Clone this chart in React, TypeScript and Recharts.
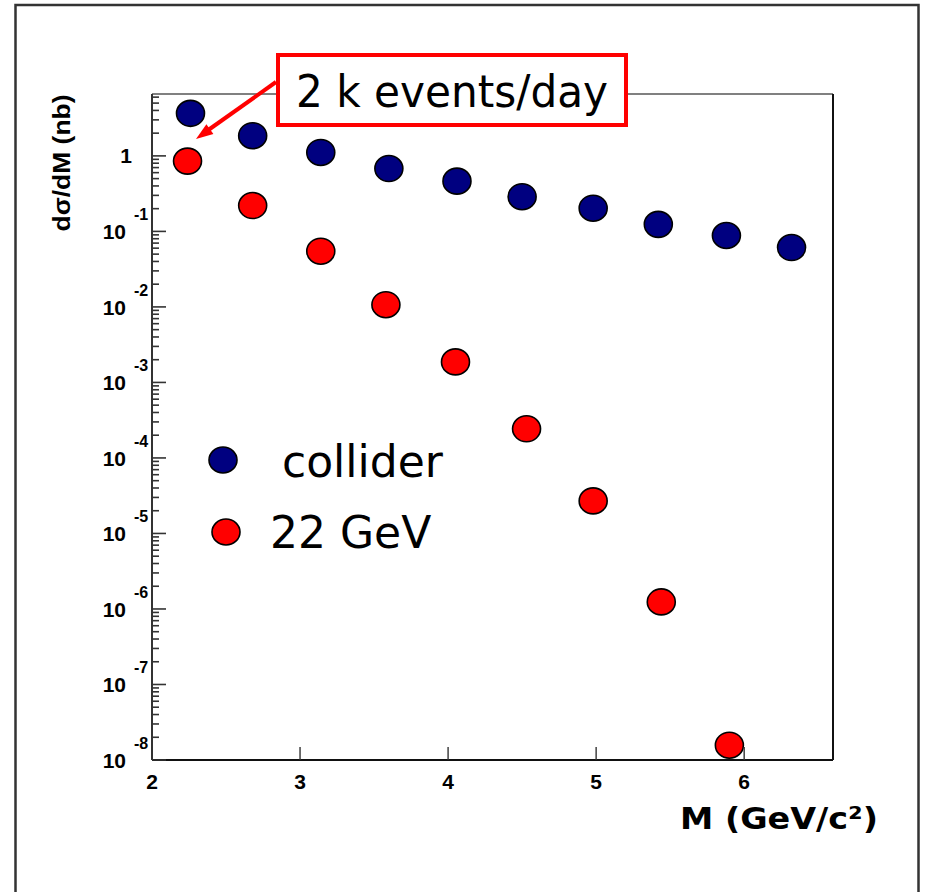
import { ScatterChart, Scatter, XAxis, YAxis, ReferenceLine } from "recharts";

// collider points (blue)
const colliderMass = [2.26, 2.68, 3.14, 3.6, 4.06, 4.5, 4.98, 5.42, 5.88, 6.32];
const colliderXsec = [3.66, 1.85, 1.11, 0.68, 0.463, 0.288, 0.203, 0.124, 0.0883, 0.0611];

// 22 GeV fixed target points (red)
const fixedMass = [2.24, 2.68, 3.14, 3.58, 4.05, 4.53, 4.98, 5.44, 5.9];
const fixedXsec = [0.853, 0.22, 0.0547, 0.0107, 0.00187, 2.43e-4, 2.7e-5, 1.24e-6, 1.57e-8];

const massTicks = [2, 3, 4, 5, 6];
const decadeExponents = [-8, -7, -6, -5, -4, -3, -2, -1, 0];
const minorSteps = [2, 3, 4, 5, 6, 7, 8, 9];

const legendItems = [
  { name: "collider", color: "#000080" },
  { name: "22 GeV", color: "#ff0000" },
];

const X_DOMAIN: [number, number] = [2, 6.6];
const Y_DOMAIN: [number, number] = [1e-8, 6.6];

const yTicks: number[] = [];
for (const e of decadeExponents) {
  yTicks.push(Math.pow(10, e));
  for (const m of minorSteps) {
    const v = m * Math.pow(10, e);
    if (v < Y_DOMAIN[1]) yTicks.push(v);
  }
}

const colliderData = colliderMass.map((m, i) => ({ m, xs: colliderXsec[i] }));
const fixedData = fixedMass.map((m, i) => ({ m, xs: fixedXsec[i] }));

const AXIS_FONT = "'Liberation Sans', Arial, sans-serif";
const HAND_FONT = "'DejaVu Sans', sans-serif";

function Marker(props: any) {
  const { cx, cy, fill } = props;
  if (cx == null || cy == null) return null;
  return <ellipse cx={cx} cy={cy} rx={14} ry={13} fill={fill} stroke="#000" strokeWidth={1.6} />;
}

function YTick(props: any) {
  const { x, y, payload } = props;
  const lg = Math.log10(payload.value);
  const exp = Math.round(lg);
  const major = Math.abs(lg - exp) < 1e-6;
  return (
    <g>
      <line x1={x} x2={x + (major ? 14 : 7)} y1={y} y2={y} stroke="#333" strokeWidth={1.6} />
      {major && exp === 0 && (
        <text x={x - 20} y={y + 7} textAnchor="end" fontFamily={AXIS_FONT} fontWeight="bold" fontSize={21} fill="#000">
          1
        </text>
      )}
      {major && exp !== 0 && (
        <g fontFamily={AXIS_FONT} fontWeight="bold" fill="#000">
          <text x={x - 26} y={y + 8} textAnchor="end" fontSize={21}>
            10
          </text>
          <text x={x - 18} y={y - 11} textAnchor="start" fontSize={16}>
            {`${exp}`}
          </text>
        </g>
      )}
    </g>
  );
}

function XTick(props: any) {
  const { x, y, payload } = props;
  return (
    <g>
      <line x1={x} x2={x} y1={y} y2={y - 13} stroke="#333" strokeWidth={1.4} />
      <text x={x} y={y + 29} textAnchor="middle" fontFamily={AXIS_FONT} fontWeight="bold" fontSize={21} fill="#000">
        {payload.value}
      </text>
    </g>
  );
}

function YTitle(props: any) {
  const vb = props.viewBox || { x: 0, y: 94 };
  return (
    <text
      transform={`translate(${vb.x + 70}, ${vb.y + 69}) rotate(-90)`}
      textAnchor="middle"
      fontFamily={AXIS_FONT}
      fontWeight="bold"
      fontSize={23}
      textLength={137}
      lengthAdjust="spacingAndGlyphs"
      fill="#000"
    >
      dσ/dM (nb)
    </text>
  );
}

function XTitle(props: any) {
  const vb = props.viewBox || { x: 152, y: 760, width: 681 };
  return (
    <text
      x={vb.x + vb.width + 45}
      y={vb.y + 69}
      textAnchor="end"
      fontFamily={HAND_FONT}
      fontWeight="bold"
      fontSize={31}
      textLength={198}
      lengthAdjust="spacingAndGlyphs"
      fill="#000"
    >
      M (GeV/c²)
    </text>
  );
}

export default function App() {
  return (
    <div style={{ position: "absolute", left: 0, top: 0, width: 932, height: 892, background: "#fff", overflow: "hidden" }}>
      <ScatterChart width={932} height={892} margin={{ top: 94, right: 99, bottom: 0, left: 0 }}>
        <XAxis
          dataKey="m"
          type="number"
          domain={X_DOMAIN}
          allowDataOverflow
          ticks={massTicks}
          interval={0}
          tickSize={0}
          tickMargin={0}
          tickLine={false}
          tick={<XTick />}
          height={132}
          axisLine={{ stroke: "#111", strokeWidth: 2 }}
          label={<XTitle />}
        />
        <YAxis
          dataKey="xs"
          type="number"
          scale="log"
          domain={Y_DOMAIN}
          allowDataOverflow
          ticks={yTicks}
          interval={0}
          tickSize={0}
          tickMargin={0}
          tickLine={false}
          tick={<YTick />}
          width={152}
          axisLine={{ stroke: "#333", strokeWidth: 2 }}
          label={<YTitle />}
        />
        <ReferenceLine y={Y_DOMAIN[1]} stroke="#808080" strokeWidth={2} />
        <ReferenceLine x={X_DOMAIN[1]} stroke="#111" strokeWidth={2} />
        <Scatter name="collider" data={colliderData} fill="#000080" shape={<Marker />} isAnimationActive={false} />
        <Scatter name="22 GeV" data={fixedData} fill="#ff0000" shape={<Marker />} isAnimationActive={false} />
      </ScatterChart>
      <svg
        width={932}
        height={892}
        style={{ position: "absolute", left: 0, top: 0, pointerEvents: "none" }}
      >
        <rect x={15.5} y={5} width={903} height={900} fill="none" stroke="#333" strokeWidth={2.5} />
        {legendItems.map((it, i) => (
          <g key={it.name}>
            <ellipse cx={223 + i * 3} cy={460 + i * 72} rx={14} ry={13} fill={it.color} stroke="#000" strokeWidth={1.6} />
            <text x={i === 0 ? 282 : 270} y={477 + i * 71} fontFamily={HAND_FONT} fontSize={44} fill="#000">
              {it.name}
            </text>
          </g>
        ))}
        <line x1={276} y1={82} x2={209} y2={129.5} stroke="#ff0000" strokeWidth={4} />
        <polygon points="196,139 213.4,134 206.4,124.2" fill="#ff0000" />
        <rect x={278} y={55} width={348} height={70} fill="#fff" stroke="#ff0000" strokeWidth={4} />
        <text
          x={452}
          y={107}
          textAnchor="middle"
          fontFamily={HAND_FONT}
          fontSize={44}
          textLength={312}
          lengthAdjust="spacingAndGlyphs"
          fill="#000"
        >
          2 k events/day
        </text>
      </svg>
    </div>
  );
}
